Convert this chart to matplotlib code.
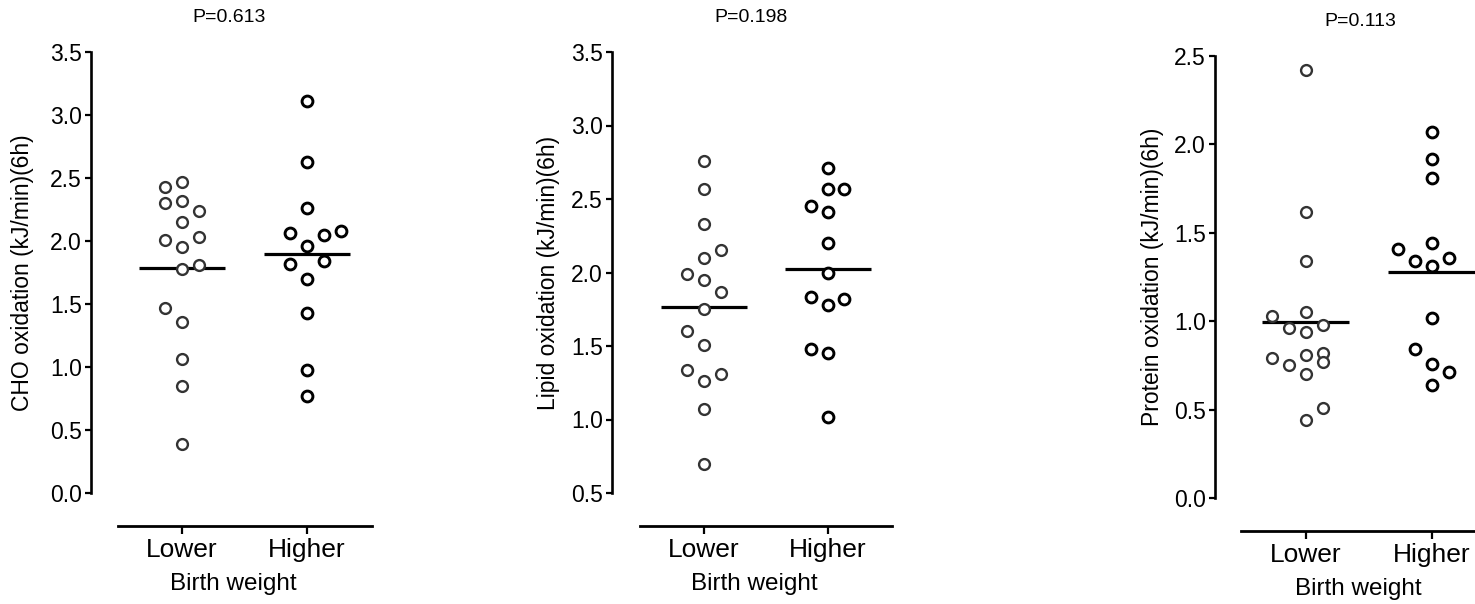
import numpy as np
import matplotlib
matplotlib.use("Agg")
import matplotlib.pyplot as plt
from matplotlib.transforms import blended_transform_factory

plt.rcParams['font.family'] = ['Liberation Sans', 'DejaVu Sans']

groups = ["Lower", "Higher"]
xlabel = "Birth weight"

# CHO oxidation
cho_lower = [2.47, 2.43, 2.32, 2.30, 2.24, 2.15, 2.03, 2.01, 1.95, 1.81, 1.78,
             1.47, 1.36, 1.06, 0.85, 0.39]
cho_lower_col = [0, -1, 0, -1, 1, 0, 1, -1, 0, 1, 0, -1, 0, 0, 0, 0]
cho_higher = [3.11, 2.63, 2.26, 2.08, 2.06, 2.05, 1.96, 1.84, 1.82, 1.70, 1.43,
              0.98, 0.77]
cho_higher_col = [0, 0, 0, 2, -1, 1, 0, 1, -1, 0, 0, 0, 0]

# Lipid oxidation
lip_lower = [2.76, 2.57, 2.33, 2.15, 2.10, 1.99, 1.95, 1.87, 1.75, 1.60, 1.51,
             1.34, 1.31, 1.26, 1.07, 0.70]
lip_lower_col = [0, 0, 0, 1, 0, -1, 0, 1, 0, -1, 0, -1, 1, 0, 0, 0]
lip_higher = [2.71, 2.57, 2.57, 2.45, 2.41, 2.20, 2.00, 1.83, 1.82, 1.78, 1.48,
              1.45, 1.02]
lip_higher_col = [0, 0, 1, -1, 0, 0, 0, -1, 1, 0, -1, 0, 0]

# Protein oxidation
pro_lower = [2.42, 1.62, 1.34, 1.05, 1.03, 0.98, 0.96, 0.94, 0.82, 0.81, 0.79,
             0.77, 0.75, 0.70, 0.51, 0.44]
pro_lower_col = [0, 0, 0, 0, -2, 1, -1, 0, 1, 0, -2, 1, -1, 0, 1, 0]
pro_higher = [2.07, 1.92, 1.81, 1.44, 1.41, 1.36, 1.34, 1.315, 1.02, 0.84, 0.76,
              0.71, 0.64]
pro_higher_col = [0, 0, 0, 0, -2, 1, -1, 0, 0, -1, 0, 1, 0]

panels = [
    dict(lo=cho_lower, lo_col=cho_lower_col, hi=cho_higher, hi_col=cho_higher_col,
         ylabel="CHO oxidation (kJ/min)(6h)", p="P=0.613",
         ylim=(0, 3.5), px=(91, 493, 52), unit=125, xlim=(0.272, 2.55),
         bounds=(0.488, 2.52), ptx=1.38, pty=17, labx=69),
    dict(lo=lip_lower, lo_col=lip_lower_col, hi=lip_higher, hi_col=lip_higher_col,
         ylabel="Lipid oxidation (kJ/min)(6h)", p="P=0.198",
         ylim=(0.5, 3.5), px=(612, 493, 52), unit=124, xlim=(0.26, 2.55),
         bounds=(0.484, 2.516), ptx=1.38, pty=17, labx=64),
    dict(lo=pro_lower, lo_col=pro_lower_col, hi=pro_higher, hi_col=pro_higher_col,
         ylabel="Protein oxidation (kJ/min)(6h)", p="P=0.113",
         ylim=(0, 2.5), px=(1215, 498, 56), unit=126, xlim=(0.28, 2.55),
         bounds=(0.49, 2.55), ptx=1.43, pty=22, labx=63),
]

W, H = 1475, 604
fig = plt.figure(figsize=(W / 100, H / 100), dpi=100)
step = 0.135

for pn in panels:
    x0, ybot, ytop = pn["px"]
    wpx = pn["unit"] * (pn["xlim"][1] - pn["xlim"][0])
    ax = fig.add_axes([x0 / W, 1 - ybot / H, wpx / W, (ybot - ytop) / H])
    ax.set_xlim(*pn["xlim"])
    ax.set_ylim(*pn["ylim"])

    # dot columns with a mean bar for each group
    for i, (vals, cols, ec, lw) in enumerate([(pn["lo"], pn["lo_col"], "#333333", 1.7),
                                               (pn["hi"], pn["hi_col"], "black", 2.1)]):
        xs = i + 1 + step * np.array(cols)
        ax.plot(xs, vals, "o", ms=7.8, mfc="white", mec=ec, mew=lw, ls="none",
                clip_on=False, zorder=3)
        ax.hlines(np.mean(vals), i + 1 - 0.345, i + 1 + 0.345, colors="black",
                  lw=2.3, zorder=2)

    for s in ["top", "right"]:
        ax.spines[s].set_visible(False)
    ax.spines["left"].set_linewidth(1.9)
    ax.spines["bottom"].set_linewidth(2.0)
    ax.spines["bottom"].set_position(("outward", 23.5))
    ax.spines["bottom"].set_bounds(*pn["bounds"])

    ax.set_yticks(np.arange(pn["ylim"][0], pn["ylim"][1] + 0.01, 0.5))
    ax.yaxis.set_major_formatter(matplotlib.ticker.FormatStrFormatter("%.1f"))
    ax.tick_params(axis="y", length=4.5, width=1.6, labelsize=16.5, pad=2)
    ax.set_xticks([1, 2])
    ax.set_xticklabels(groups)
    ax.tick_params(axis="x", length=6, width=1.6, labelsize=19, pad=3)

    ax.set_ylabel(pn["ylabel"], fontsize=16.5)
    ax.yaxis.set_label_coords(-(pn["labx"] - 12) / wpx, 0.5)
    ax.set_xlabel(xlabel, fontsize=17.5, labelpad=8)

    tr = blended_transform_factory(ax.transData, fig.transFigure)
    ax.text(pn["ptx"], 1 - pn["pty"] / H, pn["p"], transform=tr, ha="center",
            va="center", fontsize=14)

fig.savefig("out.png", dpi=100)
